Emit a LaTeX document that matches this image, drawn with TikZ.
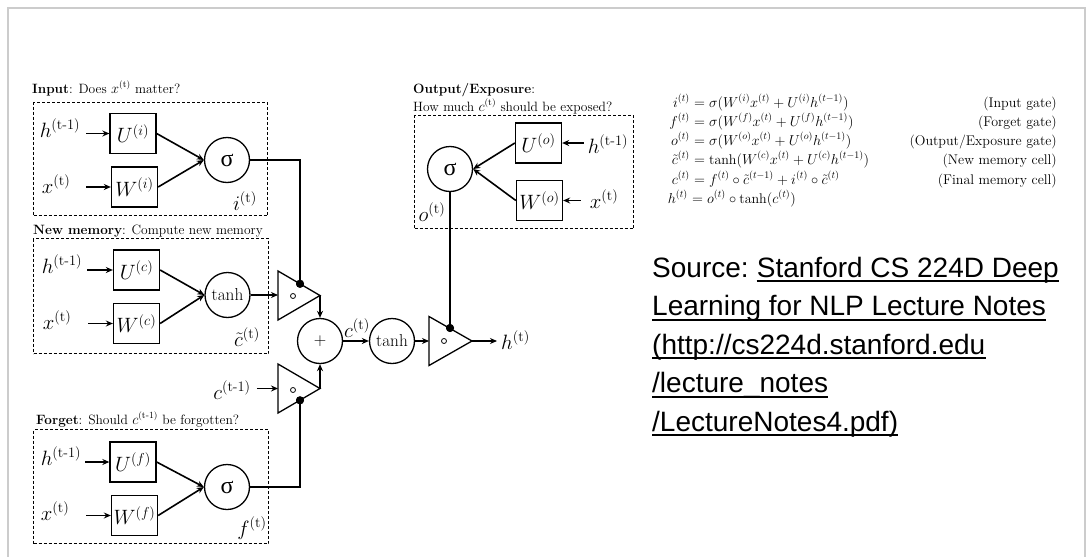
\documentclass[tikz,border=0pt]{standalone}
\usepackage{amsmath}
\usepackage{fontspec}
\newfontfamily\srcfont{Liberation Sans}
\newfontfamily\grkfont{Liberation Serif}
\usetikzlibrary{arrows.meta}
\begin{document}
\begin{tikzpicture}[x=1pt,y=-1pt,
  wbox/.style={draw, line width=1.3pt, minimum width=46pt, minimum height=40pt, inner sep=0pt, font=\fontsize{20.74}{24}\selectfont},
  act/.style={circle, draw, line width=1.3pt, minimum size=45pt, inner sep=0pt},
  dbox/.style={draw, line width=1pt, dash pattern=on 3pt off 2pt, inner sep=0pt, anchor=north west},
  conn/.style={line width=1.6pt},
  arr/.style={conn, -{Stealth[length=7pt,width=6pt]}},
  tri/.style={draw, line width=1.3pt, line join=miter},
  lbl/.style={inner sep=0pt, font=\fontsize{20.74}{24}\selectfont},
  ttl/.style={inner sep=0pt, anchor=base west, font=\fontsize{13.5}{16}\selectfont},
  dotn/.style={circle, fill=black, minimum size=8pt, inner sep=0pt},
  hada/.style={circle, draw, line width=0.8pt, minimum size=5pt, inner sep=0pt},
  sig/.style={font=\grkfont\fontsize{24}{28}\selectfont},
  tnh/.style={font=\fontsize{17.28}{20}\selectfont},
  eql/.style={inner sep=0pt, anchor=base east, font=\fontsize{14}{16}\selectfont},
  eqr/.style={inner sep=0pt, anchor=base west, font=\fontsize{14}{16}\selectfont},
  src/.style={inner sep=0pt, anchor=base west, font=\srcfont\fontsize{28}{32}\selectfont},
  uline/.style={line width=2pt}
]
\useasboundingbox (0,0) rectangle (1088,557);
\fill[white] (0,0) rectangle (1088,557);
\draw[black!20, line width=2pt] (8,557) -- (8,8) -- (1085,8) -- (1085,557);

% ---------- Input gate ----------
\node[ttl] (ititle) at (32,93) {\textbf{Input}: Does $x^{(\text{t})}$ matter?};
\node[dbox, minimum width=234pt, minimum height=113pt] (ibox) at (33,102) {};
\node[lbl] (ih) at (60,128) {$h^{(\text{t-1})}$};
\node[lbl] (ix) at (56,184) {$x^{(\text{t})}$};
\node[wbox] (iU) at (133,133.5) {$U^{(i)}$};
\node[wbox] (iW) at (134.5,187) {$W^{(i)}$};
\node[act, sig] (isig) at (227,160) {σ};
\node[lbl] (ilab) at (245,201) {$i^{(\text{t})}$};
\draw[arr] ([xshift=6pt]ih.east |- iU.west) -- (iU.west);
\draw[arr] ([xshift=16pt]ix.east |- iW.west) -- (iW.west);
\draw[arr] (iU.east) -- (isig.west);
\draw[arr] (iW.east) -- (isig.west);

% ---------- New memory ----------
\node[ttl] (ntitle) at (33,234) {\textbf{New memory}: Compute new memory};
\node[dbox, minimum width=235pt, minimum height=115pt] (nbox) at (33,238) {};
\node[lbl] (nh) at (62,264) {$h^{(\text{t-1})}$};
\node[lbl] (nx) at (57,320) {$x^{(\text{t})}$};
\node[wbox] (nU) at (136.5,270) {$U^{(c)}$};
\node[wbox] (nW) at (136.5,323.5) {$W^{(c)}$};
\node[act, tnh] (ntanh) at (227.5,295) {tanh};
\node[lbl] (nlab) at (247,337) {$\tilde{c}^{(\text{t})}$};
\draw[arr] ([xshift=5pt]nh.east |- nU.west) -- (nU.west);
\draw[arr] ([xshift=17pt]nx.east |- nW.west) -- (nW.west);
\draw[arr] (nU.east) -- (ntanh.west);
\draw[arr] (nW.east) -- (ntanh.west);

% ---------- Forget gate ----------
\node[ttl] (ftitle) at (36,424) {\textbf{Forget}: Should $c^{(\text{t-1})}$ be forgotten?};
\node[dbox, minimum width=235pt, minimum height=114pt] (fbox) at (33,429) {};
\node[lbl] (fh) at (61,456) {$h^{(\text{t-1})}$};
\node[lbl] (fx) at (55,511) {$x^{(\text{t})}$};
\node[wbox] (fU) at (133,462) {$U^{(f)}$};
\node[wbox] (fW) at (134.5,515.5) {$W^{(f)}$};
\node[act, sig] (fsig) at (227,487) {σ};
\node[lbl] (flab) at (252,528) {$f^{(\text{t})}$};
\draw[arr] ([xshift=4pt]fh.east |- fU.west) -- (fU.west);
\draw[arr] ([xshift=17pt]fx.east |- fW.west) -- (fW.west);
\draw[arr] (fU.east) -- (fsig.west);
\draw[arr] (fW.east) -- (fsig.west);

% ---------- Output gate ----------
\node[ttl] (otitle) at (413,93) {\textbf{Output/Exposure}:};
\node[ttl] (otitle2) at (413,111) {How much $c^{(\text{t})}$ should be exposed?};
\node[dbox, minimum width=219pt, minimum height=113pt] (obox) at (414,115) {};
\node[wbox] (oU) at (538.5,143) {$U^{(o)}$};
\node[wbox] (oW) at (539.5,200.5) {$W^{(o)}$};
\node[act, sig] (osig) at (450,169) {σ};
\node[lbl] (oh) at (608,144) {$h^{(\text{t-1})}$};
\node[lbl] (ox) at (604,199) {$x^{(\text{t})}$};
\node[lbl] (olab) at (432,212) {$o^{(\text{t})}$};
\draw[arr] ([xshift=-4pt]oh.west |- oU.east) -- (oU.east);
\draw[arr] ([xshift=-9pt]ox.west |- oW.east) -- (oW.east);
\draw[arr] (oU.west) -- (osig.east);
\draw[arr] (oW.west) -- (osig.east);

% ---------- gates (triangles) ----------
\coordinate (t1a) at (278,271);
\coordinate (t1b) at (278,320);
\coordinate (t1c) at (320,295.5);
\coordinate (t2a) at (278,364);
\coordinate (t2b) at (278,413);
\coordinate (t2c) at (320,388.5);
\coordinate (t3a) at (429,316.5);
\coordinate (t3b) at (429,365.5);
\coordinate (t3c) at (472,341);
\draw[tri] (t1a) -- (t1c) -- (t1b) -- cycle;
\draw[tri] (t2a) -- (t2c) -- (t2b) -- cycle;
\draw[tri] (t3a) -- (t3c) -- (t3b) -- cycle;
\node[hada] (h1) at (293,296) {};
\node[hada] (h2) at (293,390) {};
\node[hada] (h3) at (444,341) {};

\node[act, font=\fontsize{17.28}{20}\selectfont] (plus) at (320,341) {$+$};
\node[act, tnh] (otanh) at (392,341) {tanh};
\node[lbl] (clab) at (357,328) {$c^{(\text{t})}$};
\node[lbl] (cprev) at (232,390) {$c^{(\text{t-1})}$};
\node[lbl, anchor=west] (hout) at (501,340) {$h^{(\text{t})}$};

\node[dotn] (d1) at (300,283.8) {};
\node[dotn] (d2) at (300,400.3) {};
\node[dotn] (d3) at (450,328) {};

\draw[conn] (isig.east) -| (d1.center);
\draw[conn] (fsig.east) -| (d2.center);
\draw[conn] (osig.south) -- (d3.center);
\node[dotn] at (d1) {};
\node[dotn] at (d2) {};
\node[dotn] at (d3) {};

\draw[arr] (ntanh.east) -- (t1a |- ntanh.east);
\draw[arr] ([xshift=6pt]cprev.east |- t2c) -- (t2a |- t2c);
\draw[arr] (t1c) -- (plus.north);
\draw[arr] (t2c) -- (plus.south);
\draw[arr] (plus.east) -- (otanh.west);
\draw[arr] (otanh.east) -- (t3a |- otanh.east);
\draw[arr] (t3c) -- ([xshift=-4pt]hout.west |- t3c);

% ---------- equations ----------
\node[eql] (e1l) at (690,107) {$i^{(t)}$};
\node[eqr] (e1r) at (690,107) {${}=\sigma(W^{(i)}x^{(t)}+U^{(i)}h^{(t-1)})$};
\node[eql] (e1n) at (1057,107) {(Input gate)};
\node[eql] (e2l) at (690,126) {$f^{(t)}$};
\node[eqr] (e2r) at (690,126) {${}=\sigma(W^{(f)}x^{(t)}+U^{(f)}h^{(t-1)})$};
\node[eql] (e2n) at (1057,126) {(Forget gate)};
\node[eql] (e3l) at (690,145) {$o^{(t)}$};
\node[eqr] (e3r) at (690,145) {${}=\sigma(W^{(o)}x^{(t)}+U^{(o)}h^{(t-1)})$};
\node[eql] (e3n) at (1057,145) {(Output/Exposure gate)};
\node[eql] (e4l) at (690,164) {$\tilde{c}^{(t)}$};
\node[eqr] (e4r) at (690,164) {${}=\tanh(W^{(c)}x^{(t)}+U^{(c)}h^{(t-1)})$};
\node[eql] (e4n) at (1057,164) {(New memory cell)};
\node[eql] (e5l) at (690,184) {$c^{(t)}$};
\node[eqr] (e5r) at (690,184) {${}=f^{(t)}\circ\tilde{c}^{(t-1)}+i^{(t)}\circ\tilde{c}^{(t)}$};
\node[eql] (e5n) at (1057,184) {(Final memory cell)};
\node[eql] (e6l) at (688,203) {$h^{(t)}$};
\node[eqr] (e6r) at (688,203) {${}=o^{(t)}\circ\tanh(c^{(t)})$};

% ---------- source ----------
\node[src] (s0) at (652,277) {Source:};
\node[src] (s1) at ([xshift=7.8pt]s0.base east) {Stanford CS 224D Deep};
\node[src] (s2) at (652,315.5) {Learning for NLP Lecture Notes};
\node[src] (s3) at (652,354) {(http://cs224d.stanford.edu};
\node[src] (s4) at (652,392.5) {/lecture\_notes};
\node[src] (s5) at (652,431) {/LectureNotes4.pdf)};
\foreach \s in {s1,s2,s3,s4,s5}{
  \draw[uline] ([yshift=-4pt]\s.base west) -- ([yshift=-4pt]\s.base east);
}
\end{tikzpicture}
\end{document}
